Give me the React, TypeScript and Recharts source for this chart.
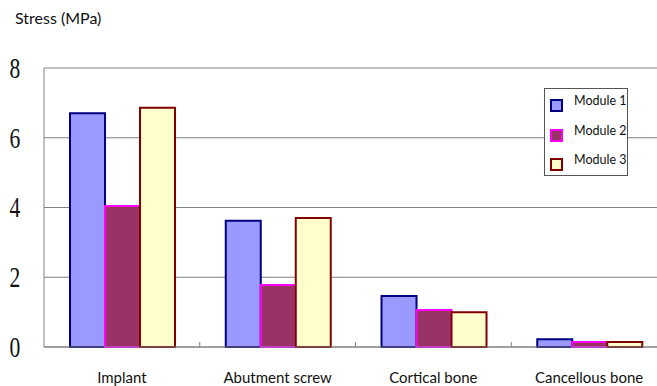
import React from 'react';
import { BarChart, Bar, XAxis, YAxis, CartesianGrid, Legend } from 'recharts';

const parts = ['Implant', 'Abutment screw', 'Cortical bone', 'Cancellous bone'];
const module1 = [6.7, 3.62, 1.46, 0.22];
const module2 = [4.04, 1.78, 1.06, 0.14];
const module3 = [6.86, 3.7, 1.0, 0.14];
const yTicks = [0, 2, 4, 6, 8];

const series = [
  { key: 'm1', name: 'Module 1', fill: '#9999FF', stroke: '#000080' },
  { key: 'm2', name: 'Module 2', fill: '#993366', stroke: '#FF00FF' },
  { key: 'm3', name: 'Module 3', fill: '#FFFFCC', stroke: '#800000' },
];

const data = parts.map((name, i) => ({
  name,
  m1: module1[i],
  m2: module2[i],
  m3: module3[i],
}));

const labelFont = 'Lato, "Noto Sans", sans-serif';

// category label plus a short tick at the left edge of each band
const PartTick = (props: any) => {
  const { x, y, payload, index, width, visibleTicksCount } = props;
  const half = width && visibleTicksCount ? width / visibleTicksCount / 2 : 0;
  return (
    <g>
      {index > 0 && half > 0 && (
        <line x1={x - half} x2={x - half} y1={y - 5} y2={y} stroke="#808080" strokeWidth={1} />
      )}
      <text x={x} y={y} dy={36} textAnchor="middle" fontSize={15} fontFamily={labelFont} fill="#111">
        {payload.value}
      </text>
    </g>
  );
};

const ValueTick = (props: any) => {
  const { y, payload } = props;
  return (
    <text
      x={0}
      y={y}
      dy={10}
      textAnchor="middle"
      fontSize={30}
      fontFamily='"Liberation Serif", serif'
      fill="#111"
      transform={`translate(15,0) scale(0.72,1)`}
    >
      {payload.value}
    </text>
  );
};

const LegendBox = () => (
  <div
    style={{
      border: '1px solid #555',
      background: '#fff',
      width: 84,
      height: 88,
      boxSizing: 'border-box',
      padding: '0 0 0 5px',
      fontFamily: labelFont,
      fontSize: 12.5,
      color: '#111',
      whiteSpace: 'nowrap',
    }}
  >
    {series.map((s) => (
      <div key={s.key} style={{ display: 'flex', alignItems: 'center', height: 29.5 }}>
        <span
          style={{
            display: 'inline-block',
            width: 9,
            height: 9,
            background: s.fill,
            border: `2px solid ${s.stroke}`,
            marginRight: 11,
            marginTop: 4,
          }}
        />
        <span style={{ marginTop: -6 }}>{s.name}</span>
      </div>
    ))}
  </div>
);

export default function App() {
  return (
    <div
      style={{
        position: 'absolute',
        left: 0,
        top: 0,
        width: 657,
        height: 386,
        overflow: 'hidden',
        background: '#fff',
      }}
    >
      <div
        style={{
          position: 'absolute',
          left: 15,
          top: 8,
          fontFamily: labelFont,
          fontSize: 16,
          color: '#111',
        }}
      >
        Stress (MPa)
      </div>
      <BarChart
        width={680}
        height={386}
        data={data}
        margin={{ top: 68, right: 13, left: 0, bottom: 0 }}
        barCategoryGap="16.7%"
        barGap={0}
      >
        <CartesianGrid vertical={false} stroke="#808080" strokeWidth={1} />
        <XAxis
          dataKey="name"
          height={39}
          tickLine={false}
          tickSize={0}
          tickMargin={0}
          axisLine={{ stroke: '#808080' }}
          tick={<PartTick />}
          interval={0}
        />
        <YAxis
          width={44}
          domain={[0, 8]}
          ticks={yTicks}
          tickLine={false}
          axisLine={{ stroke: '#808080' }}
          tick={<ValueTick />}
          interval={0}
        />
        <Legend
          layout="horizontal"
          verticalAlign="middle"
          align="center"
          content={<LegendBox />}
          wrapperStyle={{ position: 'absolute', left: 544, top: 88, width: 84, height: 88 }}
        />
        {series.map((s) => (
          <Bar
            key={s.key}
            dataKey={s.key}
            name={s.name}
            fill={s.fill}
            stroke={s.stroke}
            strokeWidth={2}
            isAnimationActive={false}
          />
        ))}
      </BarChart>
    </div>
  );
}
